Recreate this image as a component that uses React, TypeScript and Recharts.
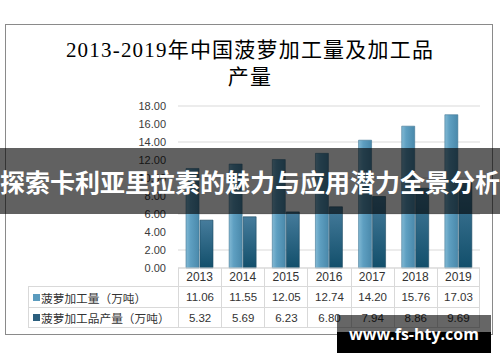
import React from "react";
import { BarChart, Bar, XAxis, YAxis, CartesianGrid } from "recharts";

const years = ["2013", "2014", "2015", "2016", "2017", "2018", "2019"];
const processing = [11.06, 11.55, 12.05, 12.74, 14.2, 15.76, 17.03];
const products = [5.32, 5.69, 6.23, 6.8, 7.94, 8.86, 9.69];
const yTicks = [0, 2, 4, 6, 8, 10, 12, 14, 16, 18];

const seriesNames = ["菠萝加工量（万吨）", "菠萝加工品产量（万吨）"];
const seriesColors = ["#5b9bbe", "#2b5f7e"];

const chartData = years.map((y, i) => ({ year: y, processing: processing[i], products: products[i] }));

// plot area geometry (keeps the html table lined up with the axis)
const PLOT_LEFT = 178;
const PLOT_RIGHT = 480;
const colW = (PLOT_RIGHT - PLOT_LEFT) / years.length;

const cellBorder = "1px solid #d9d9d9";

function DataTable() {
    const rows = [processing, products];
    return (
        <div style={{ position: "absolute", left: 28, top: 268, fontSize: 11.5, color: "#333" }}>
            {/* header row: only the year cells have borders, years come from the XAxis */}
            <div style={{ display: "flex", height: 18 }}>
                <div style={{ width: PLOT_LEFT - 28 }} />
                {years.map((y) => (
                    <div key={y} style={{ width: colW, boxSizing: "border-box", borderLeft: cellBorder, borderRight: y === years[years.length - 1] ? cellBorder : "none" }} />
                ))}
            </div>
            {rows.map((vals, r) => (
                <div key={r} style={{ display: "flex", height: 21, borderTop: cellBorder, borderBottom: r === rows.length - 1 ? cellBorder : "none", boxSizing: "border-box" }}>
                    <div style={{ width: PLOT_LEFT - 28, boxSizing: "border-box", borderLeft: cellBorder, display: "flex", alignItems: "center", paddingLeft: 4, fontFamily: "'Noto Sans CJK SC', sans-serif", fontSize: 11.7, whiteSpace: "nowrap" }}>
                        <span style={{ display: "inline-block", width: 7, height: 7, background: seriesColors[r], marginRight: 1 }} />
                        {seriesNames[r]}
                    </div>
                    {vals.map((v, i) => (
                        <div key={i} style={{ width: colW, boxSizing: "border-box", borderLeft: cellBorder, borderRight: i === vals.length - 1 ? cellBorder : "none", display: "flex", alignItems: "center", justifyContent: "center", fontFamily: "'Liberation Sans', sans-serif" }}>
                            {v.toFixed(2)}
                        </div>
                    ))}
                </div>
            ))}
        </div>
    );
}

export default function App() {
    return (
        <div style={{ position: "absolute", left: 0, top: 0, width: 500, height: 362, background: "#fff", overflow: "hidden", fontFamily: "'Liberation Sans', sans-serif" }}>
            {/* outer chart frame */}
            <div style={{ position: "absolute", left: 5, top: 24, width: 488, height: 311, border: "1px solid #8a8a8a", boxSizing: "border-box" }} />

            <div style={{ position: "absolute", left: 0, top: 37, width: 500, textAlign: "center", fontSize: 21, lineHeight: "27px", color: "#000", fontFamily: "'Liberation Serif', 'Noto Sans CJK SC', serif", letterSpacing: 1.2 }}>
                <div>2013-2019年中国菠萝加工量及加工品</div>
                <div>产量</div>
            </div>

            <div style={{ position: "absolute", left: 0, top: 0 }}>
                <BarChart width={500} height={362} data={chartData} margin={{ top: 106, right: 20, bottom: 76, left: 0 }} barSize={13} barGap={1}>
                    <defs>
                        <linearGradient id="gProc" x1="0" y1="0" x2="1" y2="0">
                            <stop offset="0%" stopColor="#82b9d4" />
                            <stop offset="35%" stopColor="#5e9fc1" />
                            <stop offset="100%" stopColor="#4a89ab" />
                        </linearGradient>
                        <linearGradient id="gProd" x1="0" y1="0" x2="0" y2="1">
                            <stop offset="0%" stopColor="#467c9c" />
                            <stop offset="100%" stopColor="#124f6b" />
                        </linearGradient>
                    </defs>
                    <CartesianGrid vertical={false} stroke="#d9d9d9" />
                    <XAxis dataKey="year" axisLine={{ stroke: "#d9d9d9" }} tickLine={false} tickSize={0} tickMargin={4} height={18} tick={{ fontSize: 12, fill: "#333" }} />
                    <YAxis width={178} domain={[0, 18]} ticks={yTicks} axisLine={false} tickLine={false} tickMargin={6} tickFormatter={(v: number) => v.toFixed(2)} tick={{ fontSize: 11, fill: "#3a3a3a" }} />
                    <Bar dataKey="processing" fill="url(#gProc)" stroke="#3f7594" strokeWidth={0.6} isAnimationActive={false} />
                    <Bar dataKey="products" fill="url(#gProd)" stroke="#1c4a62" strokeWidth={0.6} isAnimationActive={false} />
                </BarChart>
            </div>

            <DataTable />

            {/* banner overlay */}
            <div style={{ position: "absolute", left: 0, top: 148, width: 500, height: 66, background: "rgba(0,0,0,0.62)", display: "flex", alignItems: "center", justifyContent: "center", overflow: "hidden" }}>
                <span style={{ color: "#fff", fontSize: 25, fontWeight: 700, fontFamily: "'Noto Sans CJK SC', sans-serif", whiteSpace: "nowrap" }}>
                    探索卡利亚里拉素的魅力与应用潜力全景分析
                </span>
            </div>

            {/* watermark */}
            <div style={{ position: "absolute", left: 337, top: 315, width: 154, height: 17, background: "rgba(0,0,0,0.6)" }} />
            <div style={{ position: "absolute", left: 337, top: 332, width: 154, height: 21, background: "#000" }} />
            <div style={{ position: "absolute", left: 337, top: 322, width: 154, textAlign: "center", color: "#fff", fontSize: 16, fontWeight: 700, fontFamily: "'Open Sans', sans-serif", lineHeight: "24px" }}>
                www.fs-hty.com
            </div>
        </div>
    );
}
